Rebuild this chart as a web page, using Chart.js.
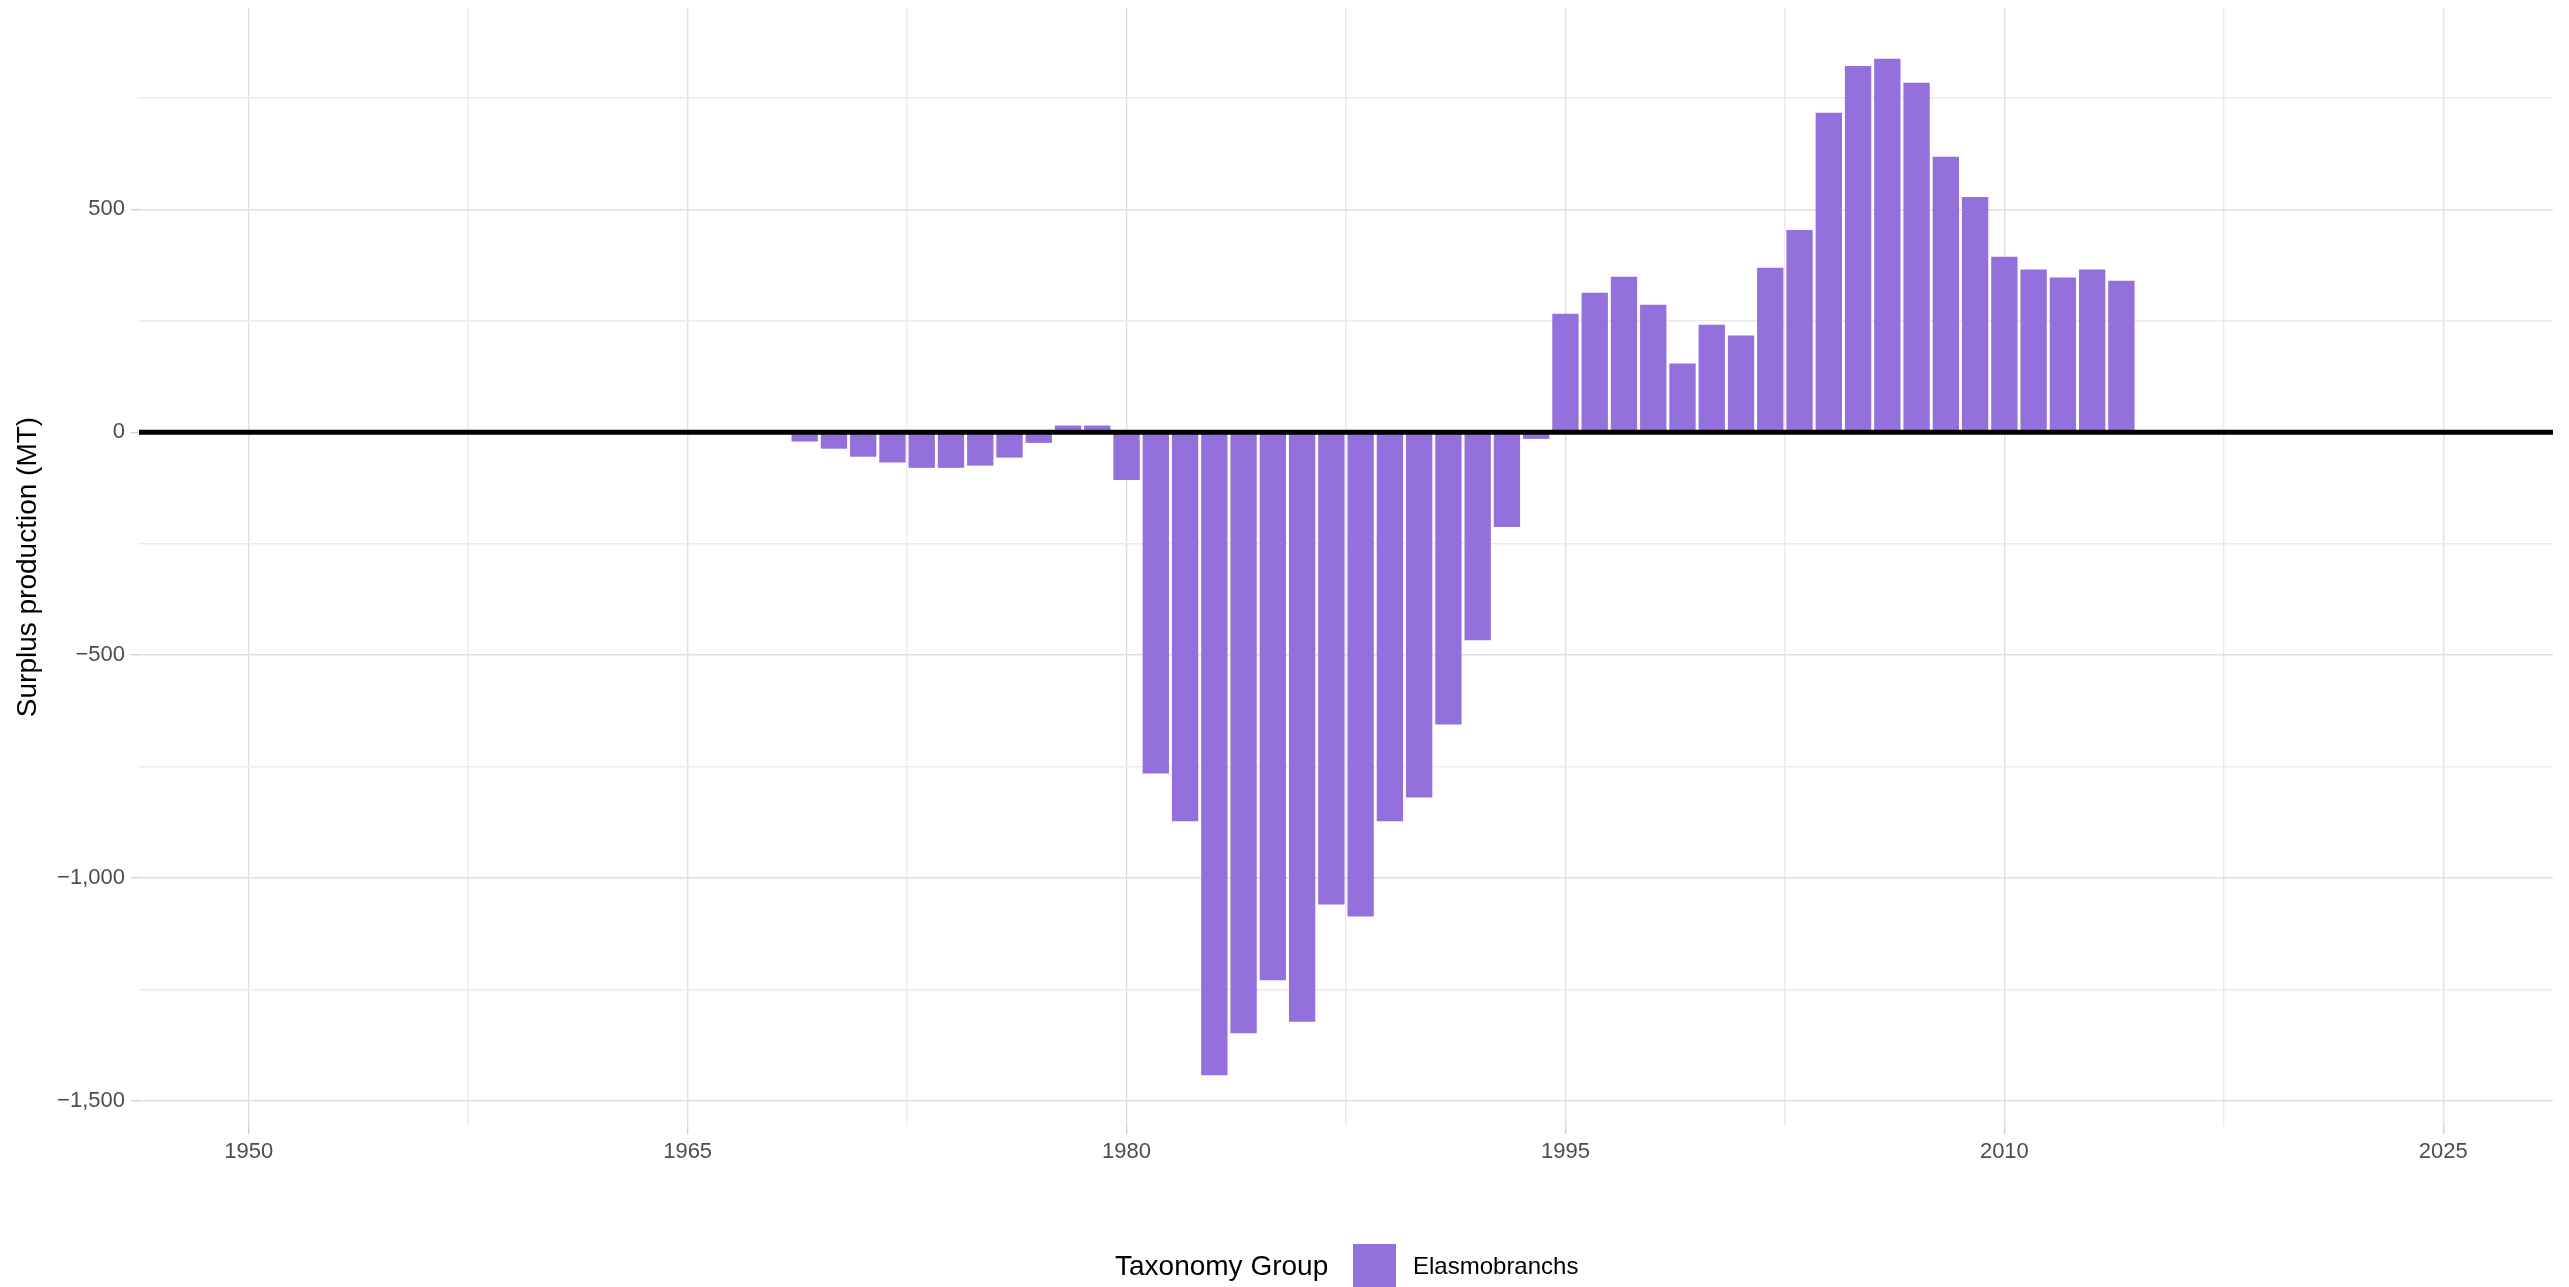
<!DOCTYPE html>
<html>
<head>
<meta charset="utf-8">
<script src="https://cdn.jsdelivr.net/npm/chart.js@4.4.1/dist/chart.umd.min.js"></script>
<style>
    body { margin: 0; background: #fff; }
    #marco { position: relative; width: 2569px; height: 1287px; }
    .ley { position: absolute; font-family: 'Liberation Sans', Arial, sans-serif; color: #000; white-space: nowrap; }
    #leyTitulo { left: 1115px; top: 1249px; font-size: 28px; line-height: 34px; }
    #leyCaja { left: 1353px; top: 1244px; width: 43px; height: 43px; background: #9370DB; }
    #leyTexto { left: 1413px; top: 1251px; font-size: 24px; line-height: 30px; }
</style>
</head>
<body>
<div id="marco">
    <canvas id="miGrafica" width="2569" height="1287"></canvas>
    <div class="ley" id="leyTitulo">Taxonomy Group</div>
    <div class="ley" id="leyCaja"></div>
    <div class="ley" id="leyTexto">Elasmobranchs</div>
</div>
<script>
const anios = [1969, 1970, 1971, 1972, 1973, 1974, 1975, 1976, 1977, 1978,
               1979, 1980, 1981, 1982, 1983, 1984, 1985, 1986, 1987, 1988,
               1989, 1990, 1991, 1992, 1993, 1994, 1995, 1996, 1997, 1998,
               1999, 2000, 2001, 2002, 2003, 2004, 2005, 2006, 2007, 2008,
               2009, 2010, 2011, 2012, 2013, 2014];

const excedente = [-21, -37, -55, -68, -80, -80, -75, -57, -24, 15,
                   15, -107, -766, -873, -1443, -1349, -1230, -1323, -1060, -1087,
                   -873, -820, -656, -467, -213, -15, 266, 313, 349, 286,
                   154, 241, 217, 369, 454, 717, 822, 838, 784, 618,
                   528, 394, 365, 347, 365, 340];

// ejes
const xMin = 1946.25;
const xMax = 2028.75;
const yMin = -1557;
const yMax = 952;
const xMayores = [1950, 1965, 1980, 1995, 2010, 2025];
const xMenores = [1957.5, 1972.5, 1987.5, 2002.5, 2017.5];
const yMayores = [-1500, -1000, -500, 0, 500];
const yMenores = [-1250, -750, -250, 250, 750];

Chart.defaults.font.family = "'Liberation Sans', Arial, sans-serif";

function esMayor(lista, ctx) {
    return ctx.tick && lista.includes(ctx.tick.value);
}

function formatoY(v) {
    return v.toLocaleString('en-US').replace('-', '\u2212');
}

const ctx = document.getElementById("miGrafica").getContext("2d");
new Chart(ctx, {
    type: "bar",
    data: {
        datasets: [
            {
                type: "line",
                label: "cero",
                data: [{x: xMin, y: 0}, {x: xMax, y: 0}],
                borderColor: "#000000",
                borderWidth: 5,
                pointRadius: 0,
                order: 0
            },
            {
                label: "Elasmobranchs",
                data: anios.map((a, i) => ({x: a, y: excedente[i]})),
                backgroundColor: "#9370DB",
                borderWidth: 0,
                barPercentage: 0.9,
                categoryPercentage: 1,
                order: 1
            }
        ]
    },
    options: {
        responsive: false,
        animation: false,
        layout: { padding: { top: 8, right: 16, left: 0, bottom: 0 } },
        plugins: {
            legend: { display: false },
            tooltip: { enabled: false }
        },
        scales: {
            x: {
                type: "linear",
                min: xMin,
                max: xMax,
                offset: false,
                afterBuildTicks: s => {
                    s.ticks = xMayores.concat(xMenores).sort((a, b) => a - b).map(v => ({value: v}));
                },
                afterFit: s => {
                    s.height = 161;
                    s.paddingLeft = 0;
                    s.paddingRight = 0;
                },
                ticks: {
                    autoSkip: false,
                    maxRotation: 0,
                    padding: 5,
                    color: "#4D4D4D",
                    font: { size: 22 },
                    callback: v => xMayores.includes(v) ? String(v) : ""
                },
                grid: {
                    color: c => esMayor(xMayores, c) ? "#E0E0E0" : "#EBEBEB",
                    lineWidth: 1.4,
                    tickColor: c => esMayor(xMayores, c) ? "#D0D0D0" : "rgba(0,0,0,0)",
                    tickLength: 8,
                    offset: false
                },
                border: { display: false }
            },
            y: {
                min: yMin,
                max: yMax,
                afterBuildTicks: s => {
                    s.ticks = yMayores.concat(yMenores).sort((a, b) => a - b).map(v => ({value: v}));
                },
                afterFit: s => {
                    s.width = 139;
                    s.paddingTop = 0;
                    s.paddingBottom = 0;
                },
                title: {
                    display: true,
                    text: "Surplus production (MT)",
                    color: "#000000",
                    font: { size: 28 },
                    padding: { top: 11, bottom: 0 }
                },
                ticks: {
                    autoSkip: false,
                    padding: 6,
                    color: "#4D4D4D",
                    font: { size: 22 },
                    callback: v => yMayores.includes(v) ? formatoY(v) : ""
                },
                grid: {
                    color: c => esMayor(yMayores, c) ? "#E0E0E0" : "#EBEBEB",
                    lineWidth: 1.4,
                    tickColor: c => esMayor(yMayores, c) ? "#D0D0D0" : "rgba(0,0,0,0)",
                    tickLength: 8
                },
                border: { display: false }
            }
        }
    }
});
</script>
</body>
</html>
